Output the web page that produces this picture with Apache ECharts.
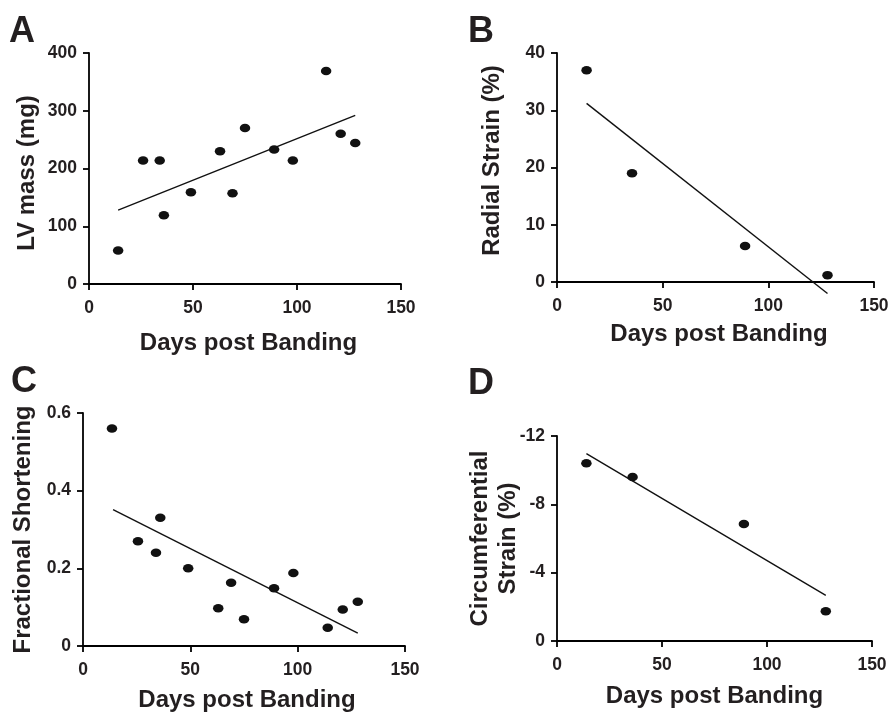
<!DOCTYPE html>
<html>
<head>
<meta charset="utf-8">
<script src="https://cdn.jsdelivr.net/npm/echarts@6/dist/echarts.min.js"></script>
<style>
  html, body { margin: 0; padding: 0; background: #fff; }
  #chart { width: 892px; height: 713px; }
</style>
</head>
<body>
<div id="chart"></div>
<script>
// Panel A: LV mass vs days post banding
const lvDays = [14, 26, 34, 36, 49, 63, 69, 75, 89, 98, 114, 121, 128];
const lvMass = [58, 214, 214, 119, 159, 230, 157, 270, 233, 214, 369, 260, 244];
const lvFitDays = [14, 128];
const lvFitMass = [128, 292];

// Panel B: radial strain
const radialDays = [14, 35.5, 89, 128];
const radialStrain = [37, 19, 6.3, 1.2];
const radialFitDays = [14, 128];
const radialFitStrain = [31.2, -2.0];

// Panel C: fractional shortening
const fsDays = [13.5, 25.6, 34, 36, 49, 63, 69, 75, 89, 98, 114, 121, 128];
const fsValues = [0.56, 0.27, 0.24, 0.33, 0.20, 0.097, 0.163, 0.069, 0.149, 0.188, 0.047, 0.094, 0.114];
const fsFitDays = [14, 128];
const fsFitValues = [0.351, 0.033];

// Panel D: circumferential strain
const circDays = [14, 36, 89, 128];
const circStrain = [-10.4, -9.6, -6.85, -1.74];
const circFitDays = [14, 128];
const circFitStrain = [-10.97, -2.67];

// Axis ticks
const dayTicks = { min: 0, max: 150, interval: 50 };
const lvTicks = { min: 0, max: 400, interval: 100 };
const radialTicks = { min: 0, max: 40, interval: 10 };
const fsTicks = { min: 0, max: 0.6, interval: 0.2 };
const circTicks = { min: -12, max: 0, interval: 4 };

const xTitle = 'Days post Banding';
const yTitles = ['LV mass (mg)', 'Radial Strain (%)', 'Fractional Shortening', 'Circumferential\nStrain (%)'];
const panelLetters = ['A', 'B', 'C', 'D'];

const FONT = '"Liberation Sans", Arial, sans-serif';
const INK = '#231f20';

const pairs = (xs, ys) => xs.map((x, i) => [x, ys[i]]);

const axisLine = { show: true, onZero: false, lineStyle: { color: '#000', width: 1.8 } };
const axisTick = { show: true, length: 6, lineStyle: { color: '#000', width: 1.8 } };
const tickLabel = { color: INK, fontFamily: FONT, fontWeight: 'bold', fontSize: 17.5 };
const titleStyle = { color: INK, fontFamily: FONT, fontWeight: 'bold', fontSize: 24 };

const grids = [
  { left: 89, top: 53, width: 312, height: 231 },
  { left: 557, top: 53, width: 317, height: 229 },
  { left: 83, top: 413, width: 322, height: 234 },
  { left: 557, top: 436, width: 315, height: 205 }
];

const xGaps = [47, 40, 42, 43];
const xPads = [[0, 0, 0, 7], [0, 0, 0, 7], [0, 0, 0, 6], [0, 0, 0, 0]];
const yGaps = [48, 51, 46, 35];
// padding shifts each rotated title along its axis
const yPads = [[0, 9, 0, 0], [0, 0, 0, 14], [0, 0, 0, 0], [0, 0, 0, 0]];
const yRanges = [lvTicks, radialTicks, fsTicks, circTicks];

const xAxes = grids.map((g, i) => Object.assign({
  type: 'value', gridIndex: i,
  name: xTitle, nameLocation: 'middle', nameGap: xGaps[i],
  nameMoveOverlap: false,
  nameTextStyle: Object.assign({ padding: xPads[i] }, titleStyle),
  axisLine, axisTick,
  axisLabel: Object.assign({ margin: 15 }, tickLabel),
  splitLine: { show: false }
}, dayTicks));

const yAxes = grids.map((g, i) => Object.assign({
  type: 'value', gridIndex: i,
  inverse: i === 3,
  name: yTitles[i], nameLocation: 'middle', nameGap: yGaps[i],
  nameMoveOverlap: false,
  nameTextStyle: Object.assign({ lineHeight: 28, padding: yPads[i] }, titleStyle),
  axisLine, axisTick,
  axisLabel: Object.assign({ margin: 12 }, tickLabel),
  splitLine: { show: false }
}, yRanges[i]));

const dotSeries = (i, xs, ys) => ({
  type: 'scatter', xAxisIndex: i, yAxisIndex: i,
  data: pairs(xs, ys),
  symbol: 'circle', symbolSize: [10.5, 8.5],
  itemStyle: { color: '#111', opacity: 1 },
  silent: true, z: 3
});

const fitSeries = (i, xs, ys) => ({
  type: 'line', xAxisIndex: i, yAxisIndex: i,
  data: pairs(xs, ys),
  showSymbol: false, clip: false,
  lineStyle: { color: '#111', width: 1.4 },
  silent: true, z: 2
});

const letterPos = [[9, 14], [468, 14], [11, 364], [468, 366]];

const chart = echarts.init(document.getElementById('chart'), null, { renderer: 'canvas' });
chart.setOption({
  animation: false,
  backgroundColor: '#fff',
  grid: grids,
  xAxis: xAxes,
  yAxis: yAxes,
  graphic: panelLetters.map((t, i) => ({
    type: 'text', left: letterPos[i][0], top: letterPos[i][1],
    style: { text: t, fill: INK, font: 'bold 36px ' + FONT }
  })),
  series: [
    dotSeries(0, lvDays, lvMass), fitSeries(0, lvFitDays, lvFitMass),
    dotSeries(1, radialDays, radialStrain), fitSeries(1, radialFitDays, radialFitStrain),
    dotSeries(2, fsDays, fsValues), fitSeries(2, fsFitDays, fsFitValues),
    dotSeries(3, circDays, circStrain), fitSeries(3, circFitDays, circFitStrain)
  ]
});
</script>
</body>
</html>
